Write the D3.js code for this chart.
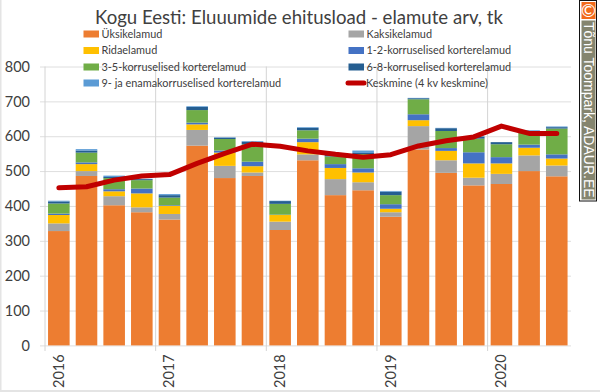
<!DOCTYPE html>
<html>
<head>
<meta charset="utf-8">
<script src="https://cdn.jsdelivr.net/npm/d3@7"></script>
<style>
body { margin: 0; background: #fff; }
svg { display: block; font-family: Lato, sans-serif; }
</style>
</head>
<body>
<div id="chart"></div>
<script>
const width = 600;
const height = 392;

const quarters = d3.range(19).map(String);
const yearLabels = ["2016", "2017", "2018", "2019", "2020"];
const yearStarts = [0, 4, 8, 12, 16];

const seriesNames = ["Üksikelamud", "Kaksikelamud", "Ridaelamud", "1-2-korruselised korterelamud",
    "3-5-korruselised korterelamud", "6-8-korruselised korterelamud", "9- ja enamakorruselised korterelamud"];
const seriesColors = ["#ed7d31", "#a5a5a5", "#ffc000", "#4472c4", "#70ad47", "#255e91", "#5b9bd5"];

const yksik = [328, 486, 402, 382, 361, 573, 480, 486, 331, 531, 431, 445, 369, 562, 495, 459, 463, 500, 485];
const kaksik = [22, 14, 26, 14, 16, 45, 35, 10, 24, 17, 46, 23, 13, 67, 36, 22, 29, 45, 31];
const rida = [24, 20, 14, 40, 23, 16, 38, 18, 19, 35, 32, 28, 10, 17, 27, 41, 30, 22, 20];
const k1_2 = [4, 5, 6, 14, 2, 5, 6, 13, 1, 10, 11, 12, 13, 17, 8, 32, 18, 9, 12];
const k3_5 = [29, 28, 32, 24, 22, 36, 33, 50, 31, 24, 22, 41, 26, 43, 49, 39, 37, 36, 74];
const k6_8 = [6, 6, 3, 3, 7, 9, 4, 7, 8, 7, 8, 3, 10, 3, 8, 6, 6, 2, 4];
const k9 = [2, 4, 4, 1, 3, 2, 1, 2, 1, 2, 1, 7, 2, 1, 1, 1, 0, 3, 2];
const keskmine = [452, 455, 474, 486, 490, 522, 551, 577, 571, 558, 548, 540, 547, 572, 587, 598, 629, 608, 608];

const yTicks = [0, 100, 200, 300, 400, 500, 600, 700, 800];

const allSeries = [yksik, kaksik, rida, k1_2, k3_5, k6_8, k9];
const rows = quarters.map((q, i) => {
    const row = { q: q };
    seriesNames.forEach((name, s) => { row[name] = allSeries[s][i]; });
    return row;
});

const svg = d3.select("#chart")
    .append("svg")
    .attr("width", width)
    .attr("height", height);

const xScale = d3.scaleBand()
    .domain(quarters)
    .range([45, 570.6])
    .paddingInner(0.22)
    .paddingOuter(0.11);

const yScale = d3.scaleLinear()
    .domain([0, 800])
    .range([345.4, 66.5]);

const step = xScale.step();
const bandLeft = d => xScale(d) - step * 0.11;

// image border
svg.append("rect").attr("width", 1.5).attr("height", height).attr("fill", "#e4e4e4");
svg.append("rect").attr("y", height - 2).attr("width", width).attr("height", 2).attr("fill", "#e4e4e4");

// Title
svg.append("text")
    .attr("x", 299)
    .attr("y", 24)
    .attr("text-anchor", "middle")
    .attr("fill", "#404040")
    .style("font-size", "18.6px")
    .text("Kogu Eesti: Eluuumide ehitusload - elamute arv, tk");

// Gridlines
svg.append("g")
    .attr("class", "grid")
    .attr("transform", "translate(571,0)")
    .call(d3.axisLeft(yScale).tickValues(yTicks).tickSize(531).tickFormat(""))
    .call(g => g.select(".domain").remove())
    .call(g => g.selectAll("line").attr("stroke", "#dedede").attr("stroke-width", 1));

// vertical year lines
svg.append("g")
    .selectAll("line")
    .data(yearStarts)
    .enter()
    .append("line")
    .attr("x1", d => bandLeft(quarters[d]))
    .attr("x2", d => bandLeft(quarters[d]))
    .attr("y1", yScale(800))
    .attr("y2", 351)
    .attr("stroke", "#d4d4d4")
    .attr("stroke-width", 1);

// Y axis labels
svg.append("g")
    .attr("transform", "translate(30,0)")
    .call(d3.axisLeft(yScale).tickValues(yTicks).tickSize(0).tickPadding(0))
    .call(g => g.select(".domain").remove())
    .call(g => g.selectAll("text").attr("fill", "#404040").style("font-family", "Lato, sans-serif").style("font-size", "14.5px"));

// X axis labels
svg.append("g")
    .selectAll("text")
    .data(yearLabels)
    .enter()
    .append("text")
    .attr("transform", (d, i) => `translate(${xScale(quarters[yearStarts[i]]) + xScale.bandwidth() / 2 + 5},388) rotate(-90)`)
    .attr("fill", "#404040")
    .style("font-size", "14.5px")
    .text(d => d);

// Bars
const stack = d3.stack().keys(seriesNames);
svg.append("g")
    .selectAll("g")
    .data(stack(rows))
    .enter()
    .append("g")
    .attr("fill", (d, i) => seriesColors[i])
    .selectAll("rect")
    .data(d => d)
    .enter()
    .append("rect")
    .attr("x", d => xScale(d.data.q))
    .attr("y", d => yScale(d[1]))
    .attr("width", xScale.bandwidth())
    .attr("height", d => yScale(d[0]) - yScale(d[1]));

// Average line
const line = d3.line()
    .x((d, i) => xScale(quarters[i]) + xScale.bandwidth() / 2)
    .y(d => yScale(d));

svg.append("path")
    .datum(keskmine)
    .attr("d", line)
    .attr("fill", "none")
    .attr("stroke", "#c00000")
    .attr("stroke-width", 5)
    .attr("stroke-linecap", "round")
    .attr("stroke-linejoin", "round");

// Legend
const legendX = [83.5, 348.5];
const legendY = [34, 50.5, 67, 83];
const legendOrder = [
    [0, 0, 0], [1, 0, 1],
    [2, 1, 0], [3, 1, 1],
    [4, 2, 0], [5, 2, 1],
    [6, 3, 0]
];
const legend = svg.selectAll(".legend")
    .data(legendOrder)
    .enter()
    .append("g")
    .attr("class", "legend")
    .attr("transform", d => `translate(${legendX[d[2]]},${legendY[d[1]]})`);

legend.append("rect")
    .attr("y", -3.5)
    .attr("width", 15.5)
    .attr("height", 7)
    .attr("fill", d => seriesColors[d[0]]);

legend.append("text")
    .attr("x", 18)
    .attr("dy", ".35em")
    .attr("fill", "#404040")
    .style("font-size", "10.9px")
    .text(d => seriesNames[d[0]]);

const lineLegend = svg.append("g")
    .attr("transform", `translate(${legendX[1]},${legendY[3]})`);
lineLegend.append("line")
    .attr("x1", -0.5)
    .attr("x2", 15.5)
    .attr("stroke", "#c00000")
    .attr("stroke-width", 5)
    .attr("stroke-linecap", "round");
lineLegend.append("text")
    .attr("x", 17.5)
    .attr("dy", ".35em")
    .attr("fill", "#404040")
    .style("font-size", "10.9px")
    .text("Keskmine (4 kv keskmine)");

// Copyright strip
svg.append("rect").attr("x", 579.5).attr("y", 0.5).attr("width", 17).attr("height", 200.5).attr("fill", "#fff").attr("stroke", "#111").attr("stroke-width", 1);
svg.append("rect").attr("x", 581.5).attr("y", 2).attr("width", 14).attr("height", 17).attr("fill", "#f26a1b");
svg.append("rect").attr("x", 581.5).attr("y", 20.5).attr("width", 14).attr("height", 179).attr("fill", "#85856f");
svg.append("text")
    .attr("x", 588.5)
    .attr("y", 16.5)
    .attr("text-anchor", "middle")
    .attr("fill", "#fff")
    .style("font-size", "18px")
    .text("©");
svg.append("text")
    .attr("transform", "translate(584,22) rotate(90)")
    .attr("fill", "#fff")
    .style("font-family", "'Liberation Sans', sans-serif")
    .style("font-size", "14px")
    .text("Tõnu Toompark, ADAUR.EE");
</script>
</body>
</html>
